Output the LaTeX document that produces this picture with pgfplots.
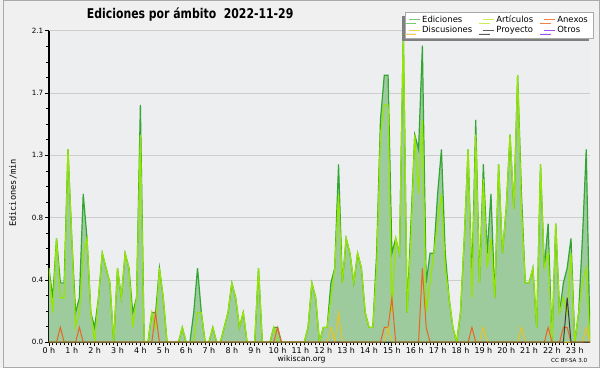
\documentclass[border=0pt]{standalone}
\usepackage{pgfplots}
\pgfplotsset{compat=1.18}
\usepackage{pgfplotstable}
\usepackage{fontspec}
\setmainfont{DejaVu Sans}
\newfontfamily\monofont{DejaVu Sans Mono}
\newfontfamily\titlefont[FakeStretch=0.81]{DejaVu Sans}
\usetikzlibrary{shadows}
\definecolor{outerbg}{RGB}{240,240,240}
\definecolor{plotbg}{RGB}{236,238,240}
\definecolor{borderc}{RGB}{170,170,170}
\definecolor{fillg}{RGB}{157,203,157}
\definecolor{edl}{RGB}{50,165,50}
\definecolor{artl}{RGB}{150,230,0}
\definecolor{anx}{RGB}{235,100,30}
\definecolor{dis}{RGB}{235,195,30}
\definecolor{proy}{RGB}{60,60,60}
\definecolor{otr}{RGB}{150,60,230}
\definecolor{gridc}{RGB}{205,205,205}
\definecolor{lged}{RGB}{120,200,120}
\definecolor{lgart}{RGB}{200,238,90}
\definecolor{lganx}{RGB}{240,130,70}
\definecolor{lgdis}{RGB}{245,205,80}
\definecolor{lgpro}{RGB}{90,90,90}
\definecolor{lgotr}{RGB}{160,80,240}
\pgfplotsset{
  layers/mylayers/.define layer set={axis background,axis grid,main,axis ticks,axis lines,axis tick labels,axis descriptions,axis foreground}{},
}
\pgfplotstableread{
k E A X D P
0 0.5 0.5 0 0 0
1 0.3 0.2 0 0 0
2 0.7 0.7 0 0 0
3 0.4 0.3 0.1 0 0
4 0.4 0.3 0 0 0
5 1.3 1.3 0 0 0
6 0.7 0.7 0 0 0
7 0.2 0.1 0 0 0
8 0.3 0.2 0.1 0 0
9 1.0 0.6 0 0 0
10 0.7 0.7 0 0 0
11 0.2 0.2 0 0 0
12 0.1 0.0 0 0 0
13 0.3 0.3 0 0 0
14 0.6 0.6 0 0 0
15 0.5 0.5 0 0 0
16 0.4 0.4 0 0 0
17 0.0 0.0 0 0 0
18 0.5 0.5 0 0 0
19 0.3 0.3 0 0 0
20 0.6 0.6 0 0 0
21 0.5 0.5 0 0 0
22 0.2 0.1 0 0 0
23 0.3 0.3 0 0 0
24 1.6 1.4 0 0 0
25 0 0 0 0 0
26 0 0 0 0 0
27 0.2 0.2 0 0 0
28 0.2 0.1 0.2 0 0
29 0.5 0.5 0 0 0
30 0.3 0.3 0 0 0
31 0 0 0 0 0
32 0 0 0 0 0
33 0 0 0 0 0
34 0 0 0 0 0
35 0.1 0.1 0 0 0
36 0 0 0 0 0
37 0 0 0 0 0
38 0.2 0.0 0 0 0
39 0.5 0.2 0 0 0
40 0.2 0.2 0 0 0
41 0 0 0 0 0
42 0 0 0 0 0
43 0.1 0.1 0 0 0
44 0 0 0 0 0
45 0 0 0 0 0
46 0.1 0.1 0 0 0
47 0.2 0.2 0 0 0
48 0.4 0.4 0 0 0
49 0.3 0.3 0 0 0
50 0.1 0.1 0 0 0
51 0.2 0.2 0 0 0
52 0 0 0 0 0
53 0 0 0 0 0
54 0 0 0 0 0
55 0.5 0.5 0 0 0
56 0 0 0 0 0
57 0 0 0 0 0
58 0 0 0 0 0
59 0.1 0.1 0 0 0
60 0.1 0.0 0.1 0 0
61 0 0 0 0 0
62 0 0 0 0 0
63 0 0 0 0 0
64 0 0 0 0 0
65 0 0 0 0 0
66 0 0 0 0 0
67 0 0 0 0 0
68 0.1 0.1 0 0 0
69 0.4 0.4 0 0 0
70 0.3 0.3 0 0 0
71 0 0 0 0 0
72 0.1 0.1 0 0 0
73 0.1 0.1 0 0 0
74 0.4 0.3 0 0.1 0
75 0.5 0.5 0 0 0
76 1.2 1.0 0 0.2 0
77 0.4 0.4 0 0 0
78 0.7 0.7 0 0 0
79 0.6 0.6 0 0 0
80 0.4 0.4 0 0 0
81 0.6 0.6 0 0 0
82 0.5 0.5 0 0 0
83 0.2 0.2 0 0 0
84 0.1 0.1 0 0 0
85 0.1 0.1 0 0 0
86 0.6 0.5 0 0 0
87 1.5 1.4 0 0 0
88 1.8 1.6 0.1 0 0
89 1.8 1.6 0.1 0.1 0
90 0.6 0.2 0.3 0 0
91 0.7 0.7 0 0 0
92 0.6 0.6 0 0 0
93 2.1 2.1 0 0 0
94 0.2 0.2 0 0 0
95 0.8 0.7 0 0 0
96 1.4 1.4 0 0 0
97 1.3 1.0 0 0 0
98 2.0 1.5 0.5 0 0
99 0.4 0.2 0.1 0 0
100 0.6 0.4 0 0 0
101 0.6 0.6 0 0 0
102 1.0 0.8 0 0 0
103 1.3 1.0 0 0 0
104 0.6 0.5 0 0 0
105 0.3 0.3 0 0 0
106 0.1 0.1 0 0 0
107 0 0 0 0 0
108 0.2 0.2 0 0 0
109 0.7 0.7 0 0 0
110 1.3 1.3 0 0 0
111 0.4 0.3 0.1 0 0
112 1.5 1.4 0 0 0
113 0.4 0.4 0 0 0
114 1.2 1.1 0 0.1 0
115 0.6 0.5 0 0 0
116 1.0 0.7 0 0 0
117 0.3 0.3 0 0 0
118 1.2 1.2 0 0 0
119 0.6 0.6 0 0 0
120 0.9 0.9 0 0 0
121 1.4 1.4 0 0 0
122 0.9 0.9 0 0 0
123 1.8 1.8 0 0 0
124 1.0 0.9 0 0.1 0
125 0.4 0.4 0 0 0
126 0.4 0.4 0 0 0
127 0.5 0.5 0 0 0
128 0.1 0.1 0 0 0
129 1.2 1.2 0 0 0
130 0.5 0.5 0 0 0
131 0.8 0.6 0.1 0 0
132 0 0 0 0 0
133 0.8 0.8 0 0 0
134 0.2 0.2 0 0 0
135 0.4 0.3 0.1 0 0
136 0.5 0.2 0.1 0 0.3
137 0.7 0.6 0 0 0
138 0 0 0 0 0
139 0.2 0.2 0 0 0
140 0.7 0.4 0 0 0
141 1.3 0.5 0 0.1 0
142 0 0 0 0 0
}\datatable

\begin{document}
\pagecolor{outerbg}
\begin{tikzpicture}
\begin{axis}[
  set layers=mylayers,
  at={(46pt,26pt)}, anchor=south west,
  width=544pt, height=313pt, scale only axis,
  xmin=0, xmax=142, ymin=0, ymax=2.1,
  axis x line*=bottom, axis y line*=left,
  axis line style={black, line width=1.2pt},
  xtick={0,6,...,138},
  xticklabels={0 h,1 h,2 h,3 h,4 h,5 h,6 h,7 h,8 h,9 h,10 h,11 h,12 h,13 h,14 h,15 h,16 h,17 h,18 h,19 h,20 h,21 h,22 h,23 h},
  minor x tick num=5,
  ytick={0,0.42,0.84,1.26,1.68,2.1},
  yticklabels={0.0,0.4,0.8,1.3,1.7,2.1},
  minor y tick num=3,
  tick align=outside,
  major tick length=4pt, minor tick length=3pt,
  tick style={black, line width=0.8pt},
  ymajorgrids, grid style={gridc, line width=0.8pt},
  axis background/.style={fill=plotbg},
  xticklabel style={font=\fontsize{8}{9}\selectfont, inner sep=1pt},
  yticklabel style={font=\fontsize{7.2}{8}\selectfont, inner sep=1.5pt},
  legend columns=3,
  legend cell align=left,
  legend image code/.code={\draw[#1, line width=1.2pt] (0pt,0pt) -- (11pt,0pt);},
  legend style={at={(1.0055,1.0607)}, anchor=north east, draw=borderc, fill=white,
    font=\fontsize{8.5}{9.5}\selectfont, inner xsep=3pt, inner ysep=1.5pt, row sep=-1.5pt,
    /tikz/every even column/.append style={column sep=8pt},
    drop shadow={shadow xshift=-3.5pt, shadow yshift=-3.5pt, fill=black!50, opacity=1}},
]
\addplot[fill=fillg, draw=none, forget plot] table[x=k,y=E]{\datatable} \closedcycle;
\addplot[edl, line width=1.2pt, forget plot] table[x=k,y=E]{\datatable};
\addplot[artl, line width=1.2pt, forget plot] table[x=k,y=A]{\datatable};
\addplot[anx, line width=1pt, forget plot] table[x=k,y=X]{\datatable};
\addplot[dis, line width=1pt, forget plot] table[x=k,y=D]{\datatable};
\addplot[proy, line width=1pt, forget plot] table[x=k,y=P]{\datatable};
\addlegendimage{lged}\addlegendentry{Ediciones}
\addlegendimage{lgart}\addlegendentry{Artículos}
\addlegendimage{lganx}\addlegendentry{Anexos}
\addlegendimage{lgdis}\addlegendentry{Discusiones}
\addlegendimage{lgpro}\addlegendentry{Proyecto}
\addlegendimage{lgotr}\addlegendentry{Otros}
\end{axis}
\node[font={\titlefont\bfseries\fontsize{13.5}{15}\selectfont}, anchor=base] at (188pt,351pt) {Ediciones por ámbito\ \ 2022-11-29};
\node[rotate=90, font={\monofont\fontsize{8.7}{10}\selectfont}] at (10pt,176pt) {Ediciones/min};
\node[font=\fontsize{7.7}{9}\selectfont] at (300pt,9pt) {wikiscan.org};
\node[font=\fontsize{5.6}{7}\selectfont] at (569pt,8pt) {CC BY-SA 3.0};
\draw[borderc, line width=1pt] (0.5pt,0.5pt) rectangle (599.5pt,369.5pt);
\end{tikzpicture}
\end{document}
